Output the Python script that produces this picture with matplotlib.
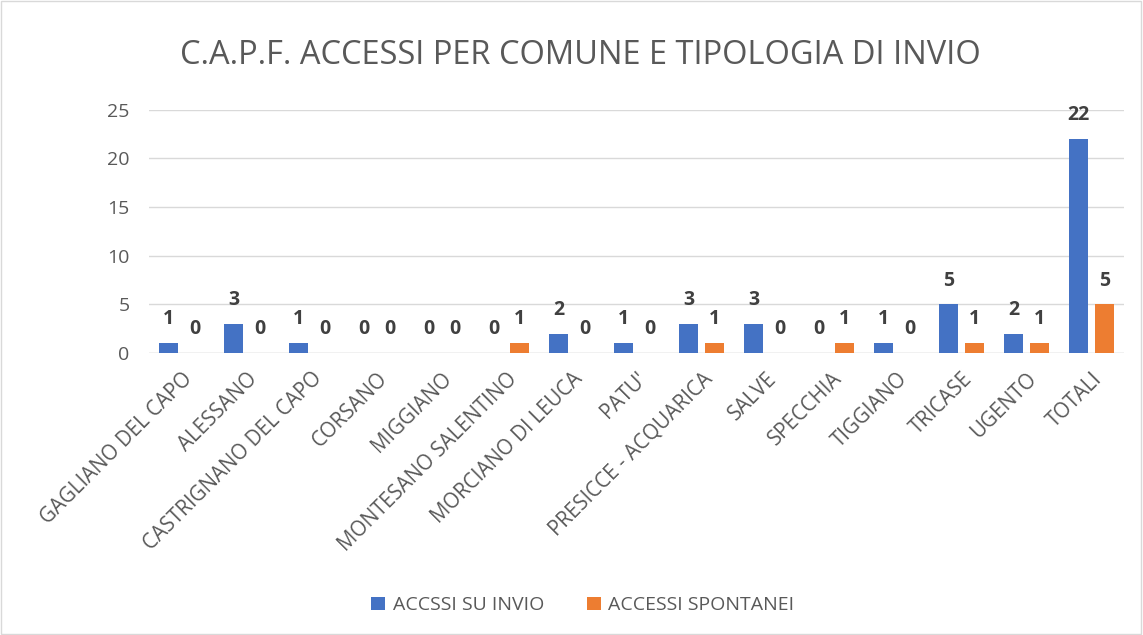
import matplotlib.pyplot as plt
import numpy as np

comuni = ["GAGLIANO DEL CAPO", "ALESSANO", "CASTRIGNANO DEL CAPO", "CORSANO",
          "MIGGIANO", "MONTESANO SALENTINO", "MORCIANO DI LEUCA", "PATU'",
          "PRESICCE - ACQUARICA", "SALVE", "SPECCHIA", "TIGGIANO", "TRICASE",
          "UGENTO", "TOTALI"]
su_invio = [1, 3, 1, 0, 0, 0, 2, 1, 3, 3, 0, 1, 5, 2, 22]
spontanei = [0, 0, 0, 0, 0, 1, 0, 0, 1, 0, 1, 0, 1, 1, 5]

BLUE = "#4472C4"
ORANGE = "#ED7D31"
TXT = "#595959"

plt.rcParams['font.family'] = ['Open Sans', 'DejaVu Sans']

fig = plt.figure(figsize=(11.43, 6.35), dpi=100)
ax = fig.add_axes([0.1304, 0.444, 0.853, 0.383])

x = np.arange(len(comuni))
w = 0.29
off = 0.2
b1 = ax.bar(x - off, su_invio, w, color=BLUE, label="ACCSSI SU INVIO", zorder=3)
b2 = ax.bar(x + off, spontanei, w, color=ORANGE, label="ACCESSI SPONTANEI", zorder=3)

for bars in (b1, b2):
    ax.bar_label(bars, padding=10, fontsize=14, fontweight='bold', color="#404040")

ax.set_xlim(-0.5, len(comuni) - 0.5)
ax.set_ylim(0, 25)
ax.set_yticks([0, 5, 10, 15, 20, 25])
ax.yaxis.grid(True, color="#d9d9d9", linewidth=1, zorder=0)
for s in ax.spines.values():
    s.set_visible(False)
ax.axhline(0, color="#d9d9d9", linewidth=1, zorder=2)
ax.tick_params(axis='y', length=0, colors=TXT, labelsize=14, pad=14)
ax.set_xticks(x)
ax.set_xticklabels(comuni, rotation=45, ha='right', rotation_mode='anchor')
ax.tick_params(axis='x', length=0, colors=TXT, labelsize=14.8, pad=11)

fig.text(0.508, 0.913, "C.A.P.F. ACCESSI PER COMUNE E TIPOLOGIA DI INVIO",
         ha='center', va='center', fontsize=23.5, color=TXT)

fig.legend(loc='center', bbox_to_anchor=(0.51, 0.047), ncol=2, frameon=False,
           fontsize=14, labelcolor=TXT, handlelength=0.7, handleheight=0.7,
           columnspacing=2.2, handletextpad=0.4)

fig.patches.append(plt.Rectangle((0.001, 0.002), 0.997, 0.996, transform=fig.transFigure,
                                 fill=False, edgecolor="#d9d9d9", linewidth=1))

fig.savefig("out.png", dpi=100)
